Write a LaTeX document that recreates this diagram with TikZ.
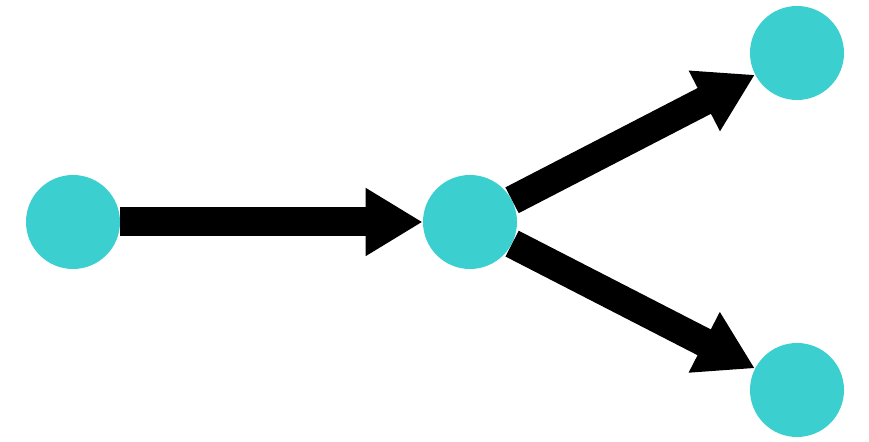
\documentclass[tikz,border=0pt]{standalone}
\usepackage{tikz}
\usepackage{xcolor}
\usetikzlibrary{arrows.meta}
\definecolor{dotcyan}{RGB}{60,207,207}
\newcommand{\DotSize}{1.88cm}
\newcommand{\ArrowWidth}{0.58cm}

\begin{document}
\begin{tikzpicture}[
  dot/.style={circle,fill=dotcyan,draw=none,minimum size=\DotSize,inner sep=0pt},
  flow/.style={black,line width=\ArrowWidth,-{Triangle[length=1.14cm,width=1.28cm]}}
]
\useasboundingbox (0,0) rectangle (17.38,8.84);

\node[dot] (src) at (1.46,4.40) {};
\node[dot] (mid) at (9.40,4.40) {};
\node[dot] (up) at (15.94,7.78) {};
\node[dot] (down) at (15.94,1.04) {};

\draw[flow] (src) -- (mid);
\draw[flow] (mid) -- (up);
\draw[flow] (mid) -- (down);
\end{tikzpicture}
\end{document}
